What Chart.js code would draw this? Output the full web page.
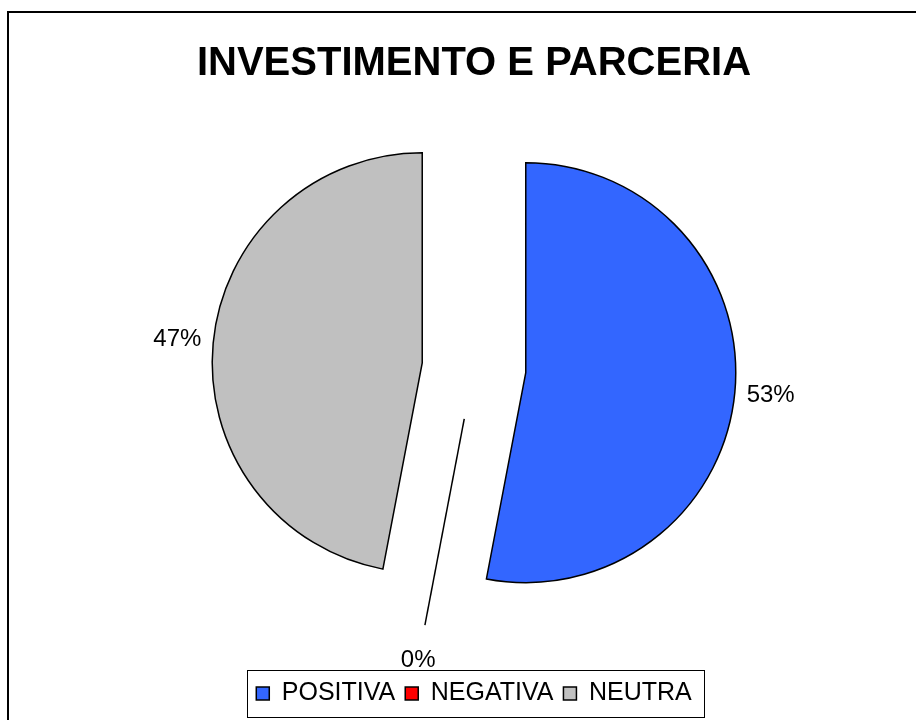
<!DOCTYPE html>
<html><head><meta charset="utf-8">
<script src="https://cdn.jsdelivr.net/npm/chart.js@4"></script>
<style>
html,body{margin:0;padding:0;background:#fff;overflow:hidden;width:916px;height:720px;}
#frame{position:absolute;left:7px;top:11px;width:1000px;height:1000px;border:2px solid #000;box-sizing:border-box;}
#wrap{position:absolute;left:0;top:0;width:916px;height:720px;}
</style></head><body>
<div id="frame"></div>
<div id="wrap"><canvas id="c"></canvas></div>
<script>
const chartTitle = 'INVESTIMENTO E PARCERIA';
const categories = ['POSITIVA', 'NEGATIVA', 'NEUTRA'];
const shareValues = [53, 0, 47];
const sliceColors = ['#3366FF', '#FF0000', '#C0C0C0'];

const EXPLODE = 52;
const PIE_RADIUS = 210;
const LABEL_RADIUS = 298;
const FONT = '"Liberation Sans", Arial, sans-serif';

function pctLabel(i) {
  const t = shareValues.reduce((a, b) => a + b, 0);
  return Math.round(shareValues[i] / t * 100) + '%';
}
function centre(chart) {
  const ca = chart.chartArea;
  return {cx: (ca.left + ca.right) / 2, cy: (ca.top + ca.bottom) / 2};
}

const explodePlugin = {
  id: 'explode',
  afterDatasetUpdate(chart, args) {
    const {cx, cy} = centre(chart);
    args.meta.data.forEach(arc => {
      const mid = (arc.startAngle + arc.endAngle) / 2;
      arc.x = cx + Math.cos(mid) * EXPLODE;
      arc.y = cy + Math.sin(mid) * EXPLODE;
    });
  },
  afterDatasetsDraw(chart) {
    const ctx = chart.ctx;
    const {cx, cy} = centre(chart);
    const meta = chart.getDatasetMeta(0);
    meta.data.forEach((arc, i) => {
      if (arc.circumference === 0) {
        ctx.save();
        ctx.strokeStyle = '#000';
        ctx.lineWidth = 1.5;
        ctx.beginPath();
        ctx.moveTo(arc.x, arc.y);
        ctx.lineTo(arc.x + Math.cos(arc.startAngle) * arc.outerRadius,
                   arc.y + Math.sin(arc.startAngle) * arc.outerRadius);
        ctx.stroke();
        ctx.restore();
      }
      const mid = (arc.startAngle + arc.endAngle) / 2;
      ctx.save();
      ctx.fillStyle = '#000';
      ctx.font = '24px ' + FONT;
      ctx.textAlign = 'center';
      ctx.textBaseline = 'middle';
      ctx.fillText(pctLabel(i), cx + Math.cos(mid) * LABEL_RADIUS, cy + Math.sin(mid) * LABEL_RADIUS);
      ctx.restore();
    });
  },
  afterDraw(chart) {
    const lg = chart.legend;
    if (!lg || !lg.legendHitBoxes || !lg.legendHitBoxes.length) return;
    const hb = lg.legendHitBoxes;
    const first = hb[0], last = hb[hb.length - 1];
    const midY = first.top + first.height / 2;
    const l = Math.round(first.left - 9) + 0.5;
    const r = Math.round(last.left + last.width + 12) + 0.5;
    const t = Math.round(midY - 23.5) + 0.5;
    const b = Math.round(midY + 23.5) + 0.5;
    const ctx = chart.ctx;
    ctx.save();
    ctx.strokeStyle = '#000';
    ctx.lineWidth = 1;
    ctx.strokeRect(l, t, r - l, b - t);
    ctx.restore();
  }
};

new Chart(document.getElementById('c'), {
  type: 'pie',
  data: {
    labels: categories,
    datasets: [{
      data: shareValues,
      backgroundColor: sliceColors,
      borderColor: '#000',
      borderWidth: 1.5,
      borderJoinStyle: 'miter',
      radius: PIE_RADIUS
    }]
  },
  options: {
    responsive: true,
    maintainAspectRatio: false,
    animation: false,
    events: [],
    layout: {padding: {left: 32, right: 0, top: 0, bottom: 4}},
    plugins: {
      title: {
        display: true, text: chartTitle, color: '#000',
        font: {family: FONT, size: 40, weight: 'bold', lineHeight: 0.05},
        padding: {top: 62.5, bottom: 0}
      },
      legend: {
        position: 'bottom',
        labels: {color: '#000', font: {family: FONT, size: 25}, boxWidth: 13, boxHeight: 13, padding: 10}
      },
      tooltip: {enabled: false}
    }
  },
  plugins: [explodePlugin]
});
</script>
</body></html>
